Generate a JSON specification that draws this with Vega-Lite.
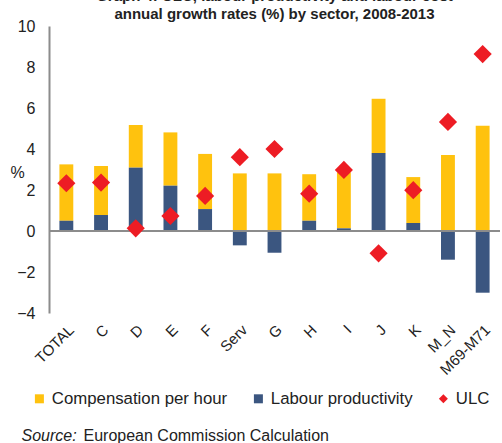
{
  "$schema": "https://vega.github.io/schema/vega-lite/v6.json",
  "autosize": {"type": "none"},
  "width": 451,
  "height": 287,
  "padding": {"left": 49, "top": 26, "right": 2, "bottom": 130},
  "background": "white",
  "title": {
    "text": ["Graph 4: ULC, labour productivity and labour cost", "annual growth rates (%) by sector, 2008-2013"],
    "fontSize": 15, "font": "Liberation Sans", "fontWeight": "bold", "color": "#222222",
    "lineHeight": 18, "offset": -4, "anchor": "middle"
  },
  "data": {
    "values": [
      {"sector": "TOTAL", "Compensation per hour": 2.75, "Labour productivity": 0.50, "ULC": 2.33},
      {"sector": "C", "Compensation per hour": 2.39, "Labour productivity": 0.78, "ULC": 2.36},
      {"sector": "D", "Compensation per hour": 2.08, "Labour productivity": 3.09, "ULC": 0.13},
      {"sector": "E", "Compensation per hour": 2.60, "Labour productivity": 2.21, "ULC": 0.73},
      {"sector": "F", "Compensation per hour": 2.69, "Labour productivity": 1.07, "ULC": 1.71},
      {"sector": "Serv", "Compensation per hour": 2.81, "Labour productivity": -0.70, "ULC": 3.60},
      {"sector": "G", "Compensation per hour": 2.81, "Labour productivity": -1.06, "ULC": 4.00},
      {"sector": "H", "Compensation per hour": 2.27, "Labour productivity": 0.50, "ULC": 1.82},
      {"sector": "I", "Compensation per hour": 2.73, "Labour productivity": 0.13, "ULC": 2.98},
      {"sector": "J", "Compensation per hour": 2.65, "Labour productivity": 3.80, "ULC": -1.09},
      {"sector": "K", "Compensation per hour": 2.24, "Labour productivity": 0.39, "ULC": 1.99},
      {"sector": "M_N", "Compensation per hour": 3.71, "Labour productivity": -1.40, "ULC": 5.32},
      {"sector": "M69-M71", "Compensation per hour": 5.14, "Labour productivity": -3.01, "ULC": 8.63}
    ]
  },
  "layer": [
    {
      "transform": [{"fold": ["Compensation per hour", "Labour productivity"], "as": ["series", "value"]}],
      "mark": {"type": "bar"},
      "encoding": {
        "x": {
          "field": "sector", "type": "nominal", "sort": null,
          "scale": {"paddingInner": 0.6, "paddingOuter": 0.3},
          "axis": {
            "title": "Source:", "titleFontStyle": "italic", "titleFontWeight": "normal", "titleFontSize": 16,
            "titleFont": "Liberation Sans", "titleColor": "#222222",
            "titleX": -28, "titleY": 122, "titleAlign": "left", "titleBaseline": "middle", "titleAnchor": "start",
            "labelAngle": -45, "labelFontSize": 15, "labelFont": "Liberation Sans", "labelColor": "#222222",
            "domain": false, "ticks": false, "labelPadding": 9
          }
        },
        "y": {
          "field": "value", "type": "quantitative", "stack": "zero",
          "scale": {"domain": [-4, 10], "nice": false},
          "axis": {
            "title": "%", "titleAngle": 0, "titleX": -32, "titleY": 146, "titleAlign": "center", "titleBaseline": "middle",
            "titleFontWeight": "normal", "titleFontSize": 16, "titleFont": "Liberation Sans", "titleColor": "#222222",
            "values": [-4, -2, 0, 2, 4, 6, 8, 10], "labelFontSize": 16, "labelFont": "Liberation Sans", "labelColor": "#222222",
            "labelPadding": 14, "ticks": false, "grid": false, "domainColor": "#8c8c8c", "domainWidth": 2
          }
        },
        "color": {
          "field": "series", "type": "nominal",
          "scale": {"domain": ["Compensation per hour", "Labour productivity", "ULC"], "range": ["#FFC20E", "#3B5680", "#ED1C24"]},
          "legend": {
            "orient": "none", "legendX": -18, "legendY": 364, "direction": "horizontal", "columns": 3,
            "gridAlign": "each", "columnPadding": 22, "labelFontSize": 16.8, "labelFont": "Liberation Sans", "labelColor": "#222222",
            "labelLimit": 400, "symbolSize": 81, "title": null, "labelOffset": 4, "symbolStrokeWidth": 0
          }
        },
        "order": {"field": "series", "sort": "descending"}
      }
    },
    {
      "mark": {"type": "rule", "color": "#8c8c8c", "strokeWidth": 2},
      "encoding": {
        "y": {
          "datum": 0, "type": "quantitative",
          "axis": {
            "orient": "right", "domain": false, "ticks": false, "labels": false, "grid": false,
            "title": "European Commission Calculation", "titleAngle": 0, "titleX": -417, "titleY": 409,
            "titleAlign": "left", "titleBaseline": "middle", "titleFontWeight": "normal", "titleFontSize": 16,
            "titleFont": "Liberation Sans", "titleColor": "#222222"
          }
        }
      }
    },
    {
      "transform": [{"fold": ["ULC"], "as": ["series", "value"]}],
      "mark": {"type": "point", "filled": true, "size": 330, "opacity": 1},
      "encoding": {
        "x": {"field": "sector", "type": "nominal", "sort": null},
        "y": {"field": "value", "type": "quantitative", "axis": null},
        "color": {"field": "series", "type": "nominal"},
        "shape": {
          "field": "series", "type": "nominal",
          "scale": {"domain": ["Compensation per hour", "Labour productivity", "ULC"], "range": ["square", "square", "diamond"]}
        }
      }
    }
  ],
  "resolve": {"axis": {"y": "independent"}},
  "config": {"view": {"stroke": null}}
}
